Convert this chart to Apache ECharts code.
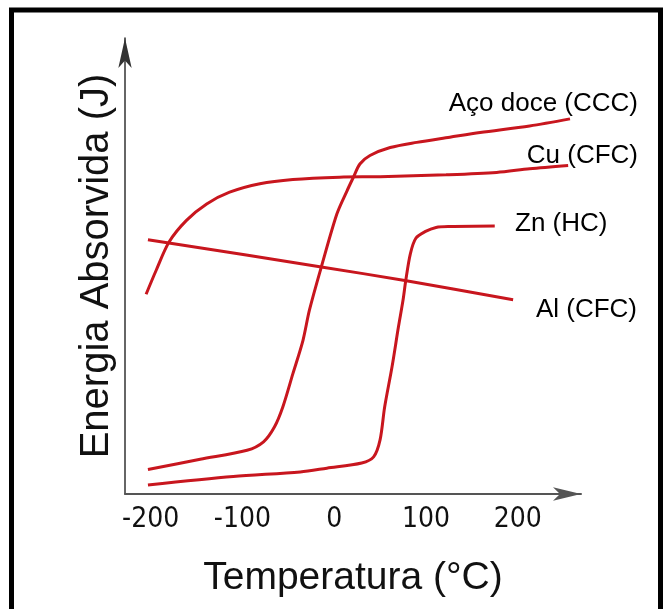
<!DOCTYPE html>
<html>
<head>
<meta charset="utf-8">
<script src="https://cdn.jsdelivr.net/npm/echarts@6/dist/echarts.min.js"></script>
<style>
  html, body { margin: 0; padding: 0; background: #fff; }
  #chart { width: 666px; height: 609px; }
</style>
</head>
<body>
<div id="chart"></div>
<script>
// temperature ticks shown under the axis (no tick marks in the original)
const tempTicks = [-200, -100, 0, 100, 200]

// Aço doce (CCC) - ductile/brittle transition around 0 °C
const acoTemp = [-203, -146, -95, -77, -65, -56, -45, -34, -27, -14, 3, 14, 21, 28, 39, 61, 90, 126, 159, 213, 257]
const acoEnergy = [5.2, 7.4, 9.3, 11.1, 14.3, 18.5, 25.6, 32.7, 39.1, 48.3, 59.6, 64.5, 67.4, 70.2, 72.0, 73.7, 74.8, 75.9, 76.9, 78.3, 79.8]

// Cu (CFC)
const cuTemp = [-205, -194, -180, -161, -139, -114, -81, -45, 6, 50, 122, 177, 213, 255]
const cuEnergy = [42.5, 47.6, 53.6, 58.2, 61.7, 64.2, 66.0, 66.9, 67.4, 67.5, 67.9, 68.4, 69.2, 69.9]

// Zn (HC)
const znTemp = [-203, -110, -37, -8, 30, 43, 50, 55, 63, 70, 75, 78, 83, 89, 99, 111, 126, 175]
const znEnergy = [1.9, 3.7, 4.7, 5.5, 6.6, 7.9, 11.5, 18.5, 27.0, 35.5, 41.2, 45.4, 51.1, 54.4, 55.8, 56.7, 56.9, 57.0]

// Al (CFC)
const alTemp = [-203, -14, 77, 195]
const alEnergy = [54.1, 48.3, 45.4, 41.3]

const toPairs = (xs, ys) => xs.map((x, i) => [x, ys[i]])

const curveColor = '#c8161e'
const textFont = '"Liberation Sans", Arial, sans-serif'

function curve(name, xs, ys) {
  return {
    name,
    type: 'line',
    data: toPairs(xs, ys),
    smooth: 0.3,
    showSymbol: false,
    silent: true,
    lineStyle: { color: curveColor, width: 3 },
    itemStyle: { color: curveColor }
  }
}

function label(text, x, y, align) {
  return {
    type: 'text',
    x, y,
    style: {
      text,
      fill: '#000',
      font: '26px ' + textFont,
      align, textAlign: align,
      verticalAlign: 'middle', textVerticalAlign: 'middle'
    }
  }
}

const chart = echarts.init(document.getElementById('chart'))

chart.setOption({
  animation: false,
  backgroundColor: '#fff',
  grid: { left: 125, right: 85, top: 38, bottom: 115 },
  xAxis: {
    type: 'value',
    min: -228,
    max: 269,
    name: 'Temperatura (°C)',
    nameLocation: 'middle',
    nameGap: 65,
    nameTextStyle: { color: '#111', fontSize: 39, fontFamily: textFont },
    axisLine: {
      show: true,
      onZero: false,
      symbol: ['none', 'arrow'],
      symbolSize: [10, 28],
      lineStyle: { color: '#555', width: 2 }
    },
    axisTick: { show: false },
    splitLine: { show: false },
    axisLabel: {
      customValues: tempTicks,
      margin: 12,
      color: '#111',
      fontSize: 28,
      fontFamily: '"Liberation Sans Narrow", "DejaVu Sans Condensed", "Liberation Sans", sans-serif'
    }
  },
  yAxis: {
    type: 'value',
    min: 0,
    max: 97,
    name: 'Energia Absorvida (J)',
    nameLocation: 'middle',
    nameGap: 8,
    nameTextStyle: { color: '#111', fontSize: 40, fontFamily: textFont },
    axisLine: {
      show: true,
      onZero: false,
      symbol: ['none', 'arrow'],
      symbolSize: [10, 30],
      lineStyle: { color: '#333', width: 1.5 }
    },
    axisTick: { show: false },
    axisLabel: { show: false },
    splitLine: { show: false }
  },
  series: [
    curve('Aço doce (CCC)', acoTemp, acoEnergy),
    curve('Cu (CFC)', cuTemp, cuEnergy),
    curve('Zn (HC)', znTemp, znEnergy),
    curve('Al (CFC)', alTemp, alEnergy)
  ],
  graphic: [
    label('Aço doce (CCC)', 638, 104, 'right'),
    label('Cu (CFC)', 638, 156, 'right'),
    label('Zn (HC)', 515, 224, 'left'),
    label('Al (CFC)', 637, 310, 'right'),
    {
      type: 'rect',
      z: 100,
      shape: { x: 11.5, y: 10, width: 649, height: 700 },
      style: { fill: 'none', stroke: '#000', lineWidth: 5 }
    }
  ]
})
</script>
</body>
</html>
